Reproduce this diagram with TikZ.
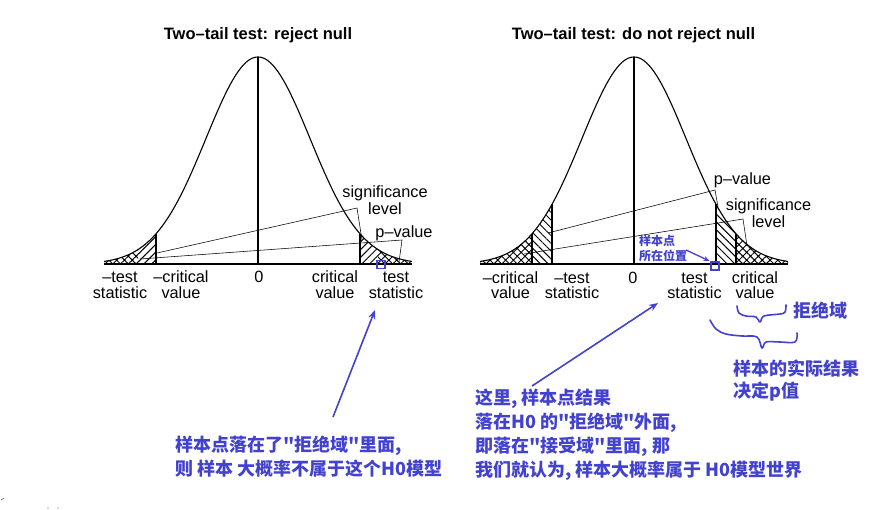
\documentclass[tikz,border=0pt]{standalone}
\usepackage{fontspec}
\setmainfont{Liberation Sans}
\newfontfamily\cjk{Noto Sans CJK SC}
\usetikzlibrary{patterns.meta,arrows.meta}
\definecolor{annot}{RGB}{66,66,206}
\begin{document}
\begin{tikzpicture}[x=1pt,y=-1pt,
  declare function={g(\t)=207*exp(-0.5*(\t/52)^2);},
  lbl/.style={font=\fontsize{16.3}{16}\selectfont, inner sep=0pt, anchor=base},
  ttl/.style={font=\fontsize{16.5}{18}\selectfont\bfseries, inner sep=0pt, anchor=base},
  ann/.style={font=\cjk\bfseries\fontsize{18}{24}\selectfont, text=annot, inner sep=0pt, anchor=base west},
  annsmall/.style={font=\cjk\bfseries\fontsize{12}{14}\selectfont, text=annot, inner sep=0pt, anchor=base west},
  curve/.style={line width=1.1pt, line join=round},
  leader/.style={line width=0.55pt},
  diagA/.style={pattern={Lines[angle=45,distance=5.5pt,line width=0.95pt]}},
  diagB/.style={pattern={Lines[angle=-45,distance=5.5pt,line width=0.95pt]}},
  xhatch/.style={pattern={Hatch[angle=45,distance=5.5pt,line width=0.95pt]}},
  barrow/.style={draw=annot, line width=1.6pt, -{Stealth[length=9pt,width=7pt]}},
  sarrow/.style={draw=annot, line width=1.3pt, -{Stealth[length=6pt,width=5pt]}},
  brace/.style={draw=annot, line width=1.6pt, line cap=round, line join=round},
  sqmark/.style={draw=annot, line width=1.3pt, minimum size=8pt, inner sep=0pt}
]
\useasboundingbox (0,0) rectangle (890,509);
\fill[white] (0,0) rectangle (890,509);

% ---------- left plot ----------
\fill[xhatch] plot[domain=-154:-120,samples=30] ({258+\x},{264-g(\x)}) -- (138,264) -- (104,264) -- cycle;
\fill[diagA] plot[domain=-120:-102,samples=20] ({258+\x},{264-g(\x)}) -- (156,264) -- (138,264) -- cycle;
\fill[diagA] plot[domain=102:120,samples=20] ({258+\x},{264-g(\x)}) -- (378,264) -- (360,264) -- cycle;
\fill[xhatch] plot[domain=120:154,samples=30] ({258+\x},{264-g(\x)}) -- (412,264) -- (378,264) -- cycle;
\draw[curve] (156,264) -- (156,{264-g(102)});
\draw[curve] (360,264) -- (360,{264-g(102)});
\draw[curve] (258,264) -- (258,{264-g(0)});
\draw[curve] (104,264) -- (412,264);
\draw[curve] plot[domain=-154:154,samples=161,smooth] ({258+\x},{264-g(\x)});

\node[ttl] (t1) at (258,39) {Two–tail test: reject null};
\node[lbl] (l1a) at (120,282) {–test};
\node[lbl] (l1b) at (120,298) {statistic};
\node[lbl] (l2a) at (181,282) {–critical};
\node[lbl] (l2b) at (181,298) {value};
\node[lbl] (l3) at (259,282) {0};
\node[lbl] (l4a) at (335,282) {critical};
\node[lbl] (l4b) at (335,298) {value};
\node[lbl] (l5a) at (396,282) {test};
\node[lbl] (l5b) at (396,298) {statistic};
\node[lbl] (s1a) at (385,197) {significance};
\node[lbl] (s1b) at (385,214) {level};
\node[lbl] (p1) at (404,237) {p–value};

\coordinate (sc1) at (357,208);
\coordinate (ss1) at (362,240);
\coordinate (sl1) at (157,253);
\coordinate (pc1) at (402,240);
\coordinate (ps1) at (399,262);
\coordinate (pl1) at (140,259);
\draw[leader] (sl1) -- (sc1) -- (ss1);
\draw[leader] (pl1) -- (pc1) -- (ps1);

% ---------- right plot ----------
\fill[xhatch] plot[domain=-154:-102,samples=40] ({634+\x},{264-g(\x)}) -- (532,264) -- (480,264) -- cycle;
\fill[diagB] plot[domain=-102:-82,samples=20] ({634+\x},{264-g(\x)}) -- (552,264) -- (532,264) -- cycle;
\fill[diagB] plot[domain=82:102,samples=20] ({634+\x},{264-g(\x)}) -- (736,264) -- (716,264) -- cycle;
\fill[xhatch] plot[domain=102:154,samples=40] ({634+\x},{264-g(\x)}) -- (788,264) -- (736,264) -- cycle;
\draw[curve] (532,264) -- (532,{264-g(102)});
\draw[curve] (552,264) -- (552,{264-g(82)});
\draw[curve] (716,264) -- (716,{264-g(82)});
\draw[curve] (736,264) -- (736,{264-g(102)});
\draw[curve] (634,264) -- (634,{264-g(0)});
\draw[curve] (480,264) -- (788,264);
\draw[curve] plot[domain=-154:154,samples=161,smooth] ({634+\x},{264-g(\x)});

\node[ttl] (t2) at (633.5,39) {Two–tail test: do not reject null};
\node[lbl] (r1a) at (510.5,283) {–critical};
\node[lbl] (r1b) at (510.5,298) {value};
\node[lbl] (r2a) at (572,283) {–test};
\node[lbl] (r2b) at (572,298) {statistic};
\node[lbl] (r3) at (633,283) {0};
\node[lbl] (r4a) at (694.5,283) {test};
\node[lbl] (r4b) at (694.5,298) {statistic};
\node[lbl] (r5a) at (755,283) {critical};
\node[lbl] (r5b) at (755,298) {value};
\node[lbl] (p2) at (742.5,184) {p–value};
\node[lbl] (s2a) at (768.5,210) {significance};
\node[lbl] (s2b) at (768.5,227) {level};

\coordinate (pc2) at (715,190);
\coordinate (ps2) at (718,207);
\coordinate (pl2) at (548,233);
\coordinate (sc2) at (743,219);
\coordinate (ss2) at (747,246);
\coordinate (sl2) at (524,254);
\draw[leader] (pl2) -- (pc2) -- (ps2);
\draw[leader] (sl2) -- (sc2) -- (ss2);

% ---------- blue annotations ----------
\node[sqmark] (m1) at (381,264.5) {};
\node[sqmark] (m2) at (715,266) {};
\node[annsmall] (sp1) at (639,245.5) {样本点};
\node[annsmall] (sp2) at (639,260.5) {所在位置};
\coordinate (sa) at (686,250);
\draw[sarrow, shorten >=1pt] (sa) -- (m2.north west);

\coordinate (a1s) at (333,417);
\coordinate (a1e) at (375,310);
\draw[barrow] (a1s) -- (a1e);
\coordinate (a2s) at (532,386);
\coordinate (a2e) at (658,303);
\draw[barrow] (a2s) -- (a2e);

\node[ann] (c1) at (175,451) {样本点落在了"拒绝域"里面,};
\node[ann] (c2) at (175,475) {则 样本 大概率不属于这个H0模型};
\node[ann] (d1) at (475,404.5) {这里, 样本点结果};
\node[ann] (d2) at (475,428.5) {落在H0 的"拒绝域"外面,};
\node[ann] (d3) at (475,452.5) {即落在"接受域"里面, 那};
\node[ann] (d4) at (475,476.5) {我们就认为, 样本大概率属于 H0模型世界};
\node[ann] (e1) at (793,317) {拒绝域};
\node[ann] (e2) at (733,375) {样本的实际结果};
\node[ann] (e3) at (733,397) {决定p值};

\draw[brace] plot[smooth, tension=0.6] coordinates {(737,306) (739,313) (746,316) (756,317) (760,322) (764,316) (780,314) (785,312) (786,305)};
\draw[brace] plot[smooth, tension=0.6] coordinates {(710,320) (716,329) (726,334) (742,336) (757,337) (762,348) (766,342) (780,342) (795,342) (797,333)};

% stray marks
\draw[black!60, line width=0.6pt] (1,500) -- (4,498);
\fill[black!60] (48,508) circle (0.7);
\fill[black!60] (58,508) circle (0.7);
\end{tikzpicture}
\end{document}
